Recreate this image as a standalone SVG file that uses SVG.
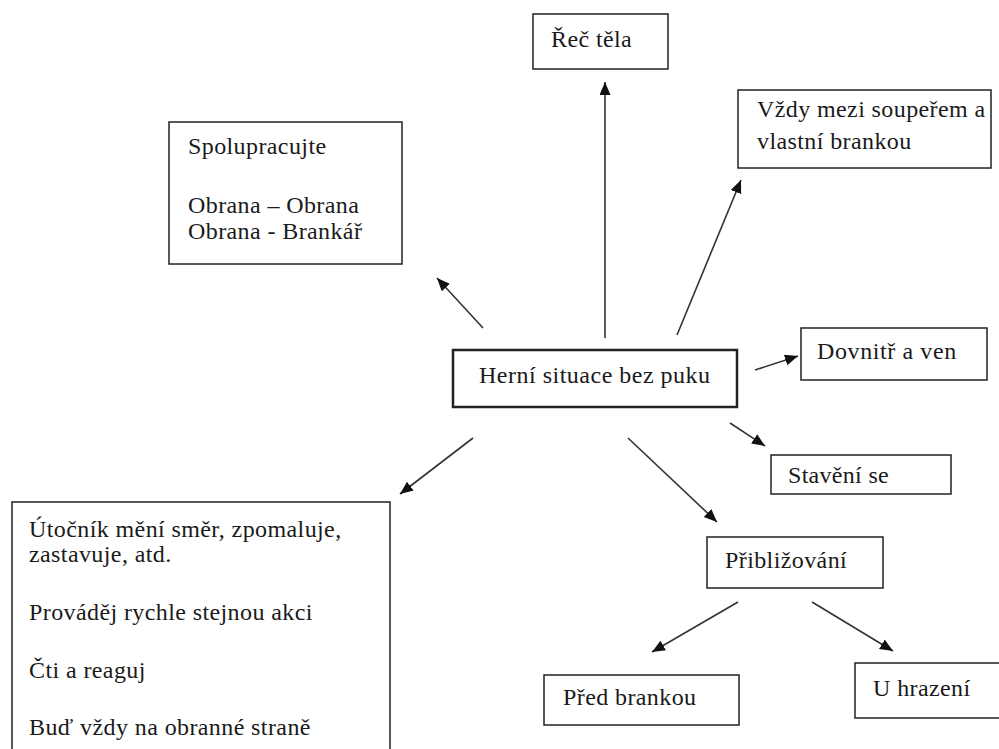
<svg xmlns="http://www.w3.org/2000/svg" width="999" height="749" viewBox="0 0 999 749">
  <defs>
    <marker id="arrow" markerUnits="userSpaceOnUse" markerWidth="14" markerHeight="12" refX="13" refY="5.5" orient="auto">
      <path d="M0,0 L13,5.5 L0,11 z" fill="#111"/>
    </marker>
  </defs>
  <rect width="999" height="749" fill="#fff"/>

  <!-- connectors: plain lines with a filled arrowhead at the target end -->
  <g id="connectors" stroke="#333" stroke-width="1.6" fill="none" marker-end="url(#arrow)">
    <line x1="605" y1="338" x2="605" y2="82"/>
    <line x1="677" y1="335" x2="741" y2="180"/>
    <line x1="483" y1="328" x2="437" y2="278"/>
    <line x1="755" y1="370" x2="798" y2="356"/>
    <line x1="730" y1="423" x2="765" y2="446"/>
    <line x1="628" y1="438" x2="717" y2="522"/>
    <line x1="473" y1="438" x2="400" y2="494"/>
    <line x1="738" y1="602" x2="652" y2="652"/>
    <line x1="812" y1="602" x2="893" y2="651"/>
  </g>

  <!-- central node, drawn with a heavier border -->
  <g id="herni-situace">
    <rect x="453" y="350" width="284" height="57" fill="#fff" stroke="#222" stroke-width="2.5"/>
    <text font-family="Liberation Serif" font-size="24" letter-spacing="0.5" fill="#1a1a1a" x="479" y="383">Herní situace bez puku</text>
  </g>

  <g id="rec-tela">
    <rect x="533" y="14" width="135" height="55" fill="#fff" stroke="#222" stroke-width="1.5"/>
    <text font-family="Liberation Serif" font-size="24" letter-spacing="0.4" fill="#1a1a1a" x="551" y="47">Řeč těla</text>
  </g>

  <g id="vzdy-mezi">
    <rect x="738" y="90" width="253" height="78" fill="#fff" stroke="#222" stroke-width="1.5"/>
    <text font-family="Liberation Serif" font-size="24" letter-spacing="0.4" fill="#1a1a1a" x="757" y="117">Vždy mezi soupeřem a</text>
    <text font-family="Liberation Serif" font-size="24" letter-spacing="0.4" fill="#1a1a1a" x="757" y="149">vlastní brankou</text>
  </g>

  <g id="spolupracujte">
    <rect x="169" y="122" width="233" height="142" fill="#fff" stroke="#222" stroke-width="1.5"/>
    <text font-family="Liberation Serif" font-size="24" letter-spacing="0.4" fill="#1a1a1a" x="188" y="154">Spolupracujte</text>
    <text font-family="Liberation Serif" font-size="24" letter-spacing="0.4" fill="#1a1a1a" x="188" y="213">Obrana – Obrana</text>
    <text font-family="Liberation Serif" font-size="24" letter-spacing="0.4" fill="#1a1a1a" x="188" y="239">Obrana - Brankář</text>
  </g>

  <g id="dovnitr">
    <rect x="801" y="328" width="186" height="52" fill="#fff" stroke="#222" stroke-width="1.5"/>
    <text font-family="Liberation Serif" font-size="24" letter-spacing="0.6" fill="#1a1a1a" x="817" y="359">Dovnitř a ven</text>
  </g>

  <g id="staveni">
    <rect x="771" y="455" width="180" height="39" fill="#fff" stroke="#222" stroke-width="1.5"/>
    <text font-family="Liberation Serif" font-size="24" letter-spacing="0.3" fill="#1a1a1a" x="788" y="483">Stavění se</text>
  </g>

  <g id="priblizovani">
    <rect x="707" y="537" width="176" height="51" fill="#fff" stroke="#222" stroke-width="1.5"/>
    <text font-family="Liberation Serif" font-size="24" letter-spacing="0.4" fill="#1a1a1a" x="725" y="568">Přibližování</text>
  </g>

  <g id="pred-brankou">
    <rect x="544" y="675" width="195" height="50" fill="#fff" stroke="#222" stroke-width="1.5"/>
    <text font-family="Liberation Serif" font-size="24" letter-spacing="0.4" fill="#1a1a1a" x="563" y="705">Před brankou</text>
  </g>

  <g id="u-hrazeni">
    <rect x="855" y="663" width="145" height="55" fill="#fff" stroke="#222" stroke-width="1.5"/>
    <text font-family="Liberation Serif" font-size="24" letter-spacing="0.4" fill="#1a1a1a" x="873" y="696">U hrazení</text>
  </g>

  <g id="utocnik">
    <rect x="12" y="502" width="378" height="260" fill="#fff" stroke="#222" stroke-width="1.5"/>
    <text font-family="Liberation Serif" font-size="24" letter-spacing="0.4" fill="#1a1a1a" x="29" y="537">Útočník mění směr, zpomaluje,</text>
    <text font-family="Liberation Serif" font-size="24" letter-spacing="0.4" fill="#1a1a1a" x="29" y="562">zastavuje, atd.</text>
    <text font-family="Liberation Serif" font-size="24" letter-spacing="0.4" fill="#1a1a1a" x="29" y="620">Prováděj rychle stejnou akci</text>
    <text font-family="Liberation Serif" font-size="24" letter-spacing="0.4" fill="#1a1a1a" x="29" y="678">Čti a reaguj</text>
    <text font-family="Liberation Serif" font-size="24" letter-spacing="0.4" fill="#1a1a1a" x="29" y="735">Buď vždy na obranné straně</text>
  </g>
</svg>
